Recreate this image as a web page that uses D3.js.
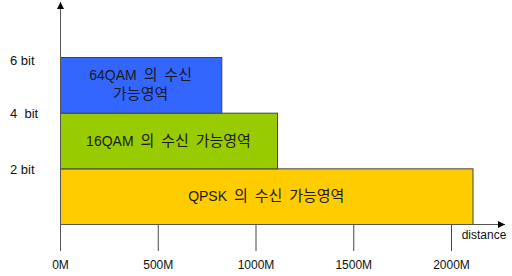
<!DOCTYPE html>
<html><head><meta charset="utf-8">
<script src="https://cdn.jsdelivr.net/npm/d3@7"></script>
<style>html,body{margin:0;padding:0;background:#fff;}svg{display:block;}</style>
</head><body>
<svg id="c" width="512" height="276"></svg>
<script>
const modes = ["QPSK", "16QAM", "64QAM"];
const bitLow = [0, 2, 4];
const bitHigh = [2, 4, 6];
const maxDistance = [2110, 1110, 825];
const labelLines = [["QPSK 의 수신 가능영역"], ["16QAM 의 수신 가능영역"], ["64QAM 의 수신", "가능영역"]];
const colors = ["#FFCC00", "#99CC00", "#3366FF"];
const xTicks = [0, 500, 1000, 1500, 2000];
const yTicks = [2, 4, 6];
const yTickLabels = ["2 bit", "4  bit", "6 bit"];

const svg = d3.select("#c");
const x = d3.scaleLinear().domain([0, 2000]).range([60, 451]);
const y = d3.scaleLinear().domain([0, 6]).range([224, 57]);
const latin = "'Liberation Sans', Arial, sans-serif";
const kr = "'Noto Sans CJK KR', sans-serif";

const defs = svg.append("defs");
defs.append("marker").attr("id", "arr").attr("viewBox", "0 0 10 10")
  .attr("refX", 10).attr("refY", 5).attr("markerWidth", 10).attr("markerHeight", 7)
  .attr("markerUnits", "userSpaceOnUse").attr("orient", "auto")
  .append("path").attr("d", "M0,0L10,5L0,10Z").attr("fill", "#000");

// bars
const bars = svg.append("g");
modes.forEach((m, i) => {
  bars.append("rect")
    .attr("x", x(0) + 0.5).attr("y", y(bitHigh[i]) + 0.5)
    .attr("width", x(maxDistance[i]) - x(0)).attr("height", y(bitLow[i]) - y(bitHigh[i]))
    .attr("fill", colors[i]).attr("stroke", "#444").attr("stroke-width", 1);
});
function addMixed(textSel, str) {
  const parts = str.match(/[\uAC00-\uD7A3]+|[^\uAC00-\uD7A3]+/g);
  parts.forEach(p => {
    const isKr = /[\uAC00-\uD7A3]/.test(p);
    textSel.append("tspan").attr("font-family", isKr ? kr : latin)
      .attr("font-size", isKr ? 15 : 14).text(p);
  });
}
modes.forEach((m, i) => {
  const cx = (x(0) + x(maxDistance[i])) / 2;
  const cy = (y(bitLow[i]) + y(bitHigh[i])) / 2;
  const lines = labelLines[i];
  const lh = 19;
  lines.forEach((t, j) => {
    const tx = bars.append("text").attr("x", cx).attr("y", cy + (j - (lines.length - 1) / 2) * lh + 5)
      .attr("text-anchor", "middle").attr("word-spacing", 3)
      .attr("fill", "#1a1a1a");
    addMixed(tx, t);
  });
});

// x axis
const xa = svg.append("g").attr("transform", `translate(0,${y(0)})`)
  .call(d3.axisBottom(x).tickValues(xTicks).tickSize(27).tickSizeOuter(0).tickFormat(d => d + "M"));
xa.select(".domain").remove();
xa.selectAll(".tick line").attr("stroke", "#444");
xa.selectAll(".tick text").attr("dy", 0).attr("y", 41).attr("dominant-baseline", "central")
  .attr("font-family", latin).attr("font-size", 12).attr("fill", "#111");
svg.append("line").attr("x1", x(0)).attr("x2", 505).attr("y1", y(0) + 0.5).attr("y2", y(0) + 0.5)
  .attr("stroke", "#555").attr("marker-end", "url(#arr)");
svg.append("text").attr("x", 484).attr("y", 235).attr("text-anchor", "middle")
  .attr("dominant-baseline", "central").attr("font-family", latin).attr("font-size", 12)
  .attr("fill", "#111").text("distance");

// y axis
svg.append("line").attr("x1", x(0) + 0.5).attr("x2", x(0) + 0.5).attr("y1", 251).attr("y2", 2)
  .attr("stroke", "#555").attr("marker-end", "url(#arr)");
yTicks.forEach((b, i) => {
  svg.append("text").attr("x", 10).attr("y", y(b) + (b === 6 ? 3 : 1))
    .attr("dominant-baseline", "central").attr("font-family", latin).attr("font-size", 13)
    .attr("fill", "#111").attr("xml:space", "preserve").style("white-space", "pre").text(yTickLabels[i]);
});
</script>
</body></html>
